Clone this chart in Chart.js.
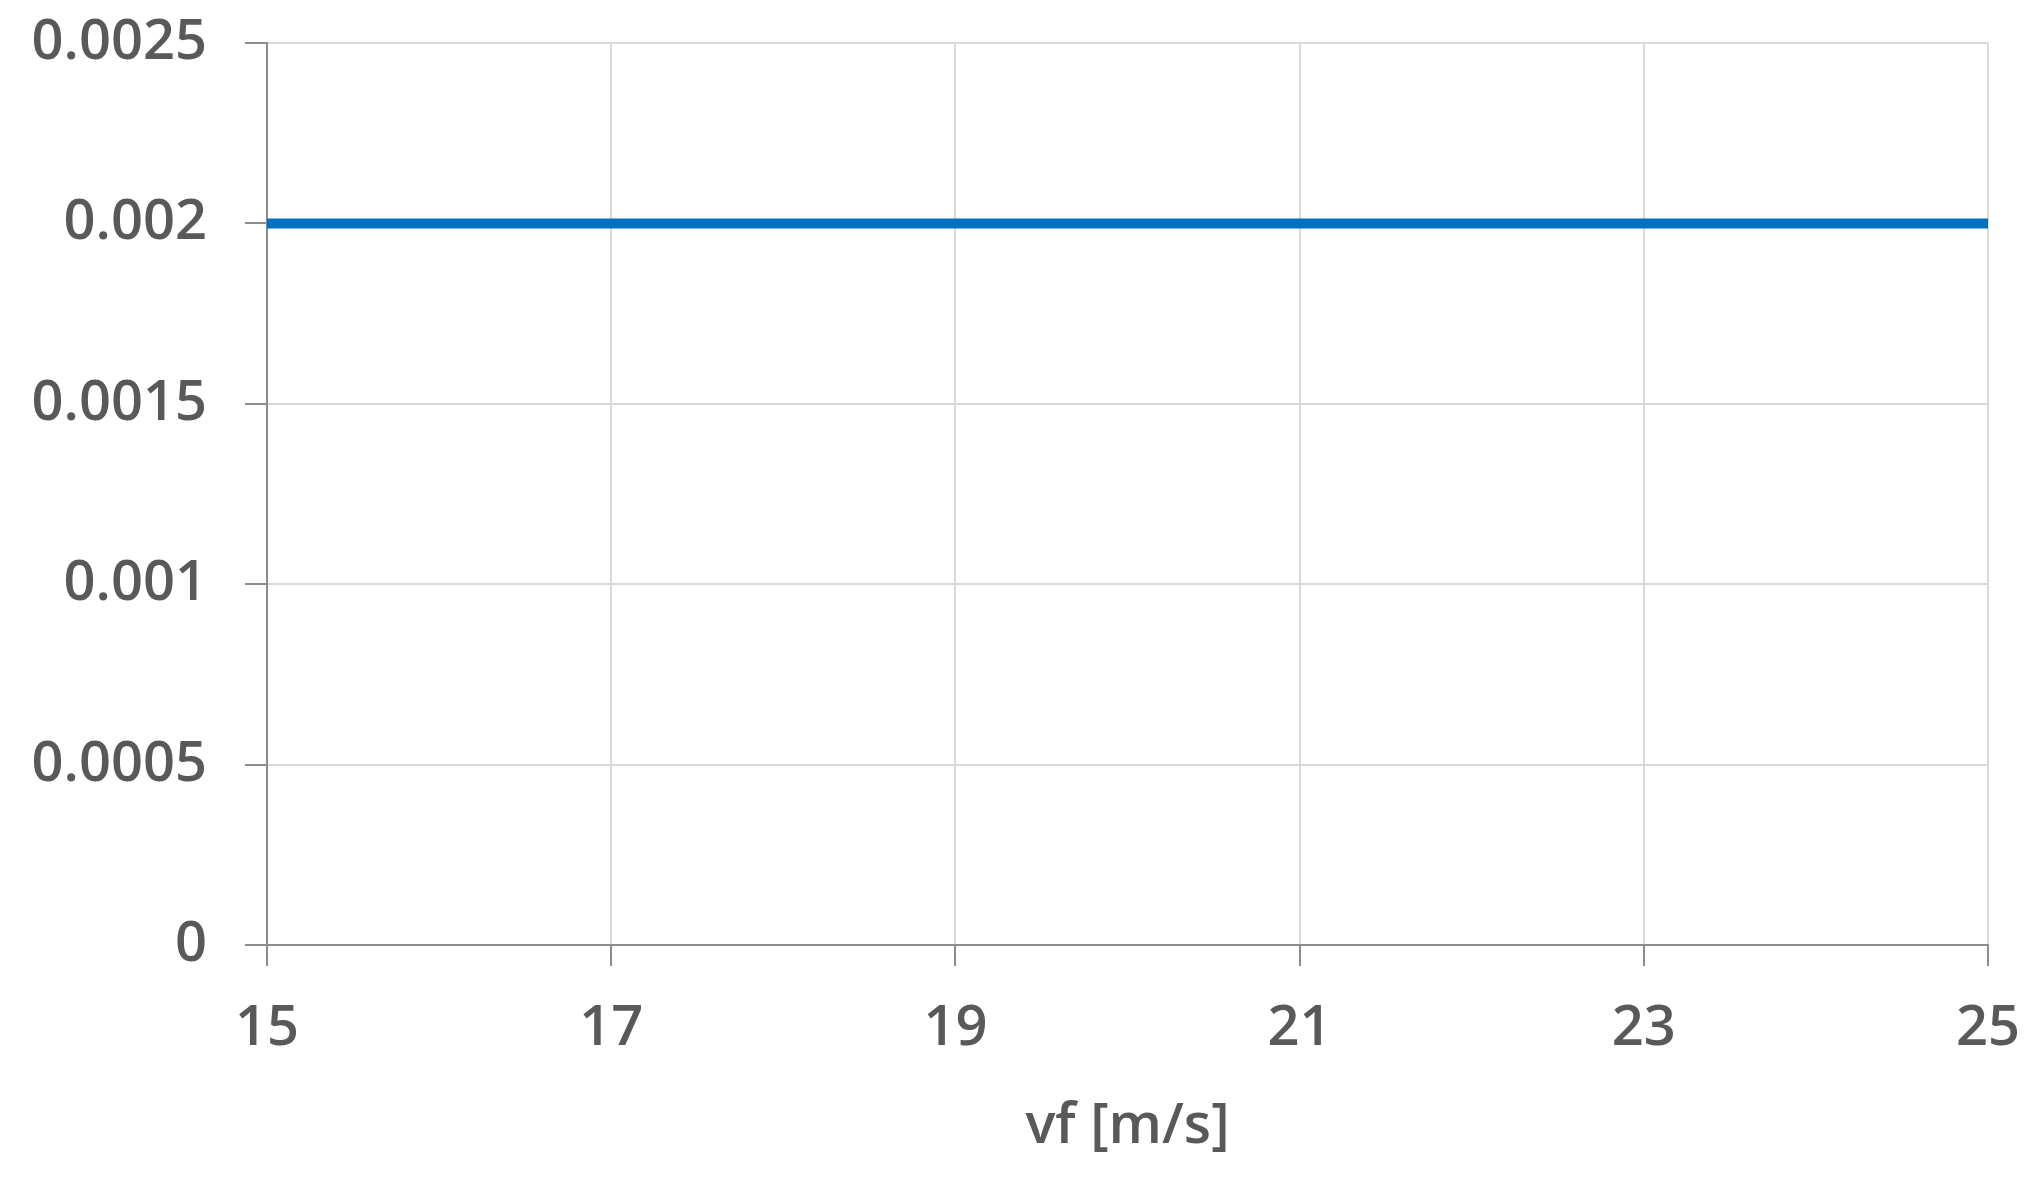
<!DOCTYPE html>
<html>
<head>
<meta charset="utf-8">
<script src="https://cdn.jsdelivr.net/npm/chart.js@4.4.1/dist/chart.umd.min.js"></script>
<style>
  html, body { margin: 0; padding: 0; background: #fff; }
  #wrap { width: 2035px; height: 1179px; }
</style>
</head>
<body>
<div id="wrap"><canvas id="myChart"></canvas></div>
<script>
// data
const vf = [15, 16, 17, 18, 19, 20, 21, 22, 23, 24, 25];
const values = [0.002, 0.002, 0.002, 0.002, 0.002, 0.002, 0.002, 0.002, 0.002, 0.002, 0.002];
const xTickLabels = ["15", "17", "19", "21", "23", "25"];
const yTickLabels = ["0", "0.0005", "0.001", "0.0015", "0.002", "0.0025"];

const textColor = "#595959";
const gridColor = "#d9d9d9";
const axisColor = "#8c8c8c";
const labelFont = { family: "'Open Sans'", size: 56, weight: 600 };

const ctx = document.getElementById("myChart");

new Chart(ctx, {
  type: "line",
  data: {
    datasets: [
      {
        label: "series",
        data: vf.map((x, i) => ({ x: x, y: values[i] })),
        borderColor: "#0070C0",
        borderWidth: 10,
        pointRadius: 0,
        fill: false,
      },
    ],
  },
  options: {
    responsive: true,
    maintainAspectRatio: false,
    animation: false,
    layout: {
      padding: { left: 0, right: 47, top: 43, bottom: 0 },
    },
    plugins: {
      legend: { display: false },
      tooltip: { enabled: false },
    },
    scales: {
      x: {
        type: "linear",
        min: 15,
        max: 25,
        // fixed axis height, no extra label overflow padding
        afterFit: (scale) => {
          scale.height = 234;
          scale.paddingLeft = 0;
          scale.paddingRight = 0;
        },
        ticks: {
          stepSize: 2,
          color: textColor,
          padding: 29,
          maxRotation: 0,
          font: labelFont,
          callback: (v, i) => xTickLabels[i],
        },
        grid: {
          color: gridColor,
          lineWidth: 2,
          tickLength: 21,
          tickColor: axisColor,
          tickWidth: 2,
        },
        border: { color: axisColor, width: 2 },
        title: {
          display: true,
          text: "vf [m/s]",
          color: textColor,
          font: labelFont,
          padding: { top: 0, bottom: 18 },
        },
      },
      y: {
        min: 0,
        max: 0.0025,
        afterFit: (scale) => {
          scale.width = 267;
          scale.paddingTop = 0;
          scale.paddingBottom = 0;
        },
        ticks: {
          stepSize: 0.0005,
          color: textColor,
          padding: 38,
          font: labelFont,
          callback: (v, i) => yTickLabels[i],
        },
        grid: {
          color: gridColor,
          lineWidth: 2,
          tickLength: 22,
          tickColor: axisColor,
          tickWidth: 2,
        },
        border: { color: axisColor, width: 2 },
      },
    },
  },
});
</script>
</body>
</html>
